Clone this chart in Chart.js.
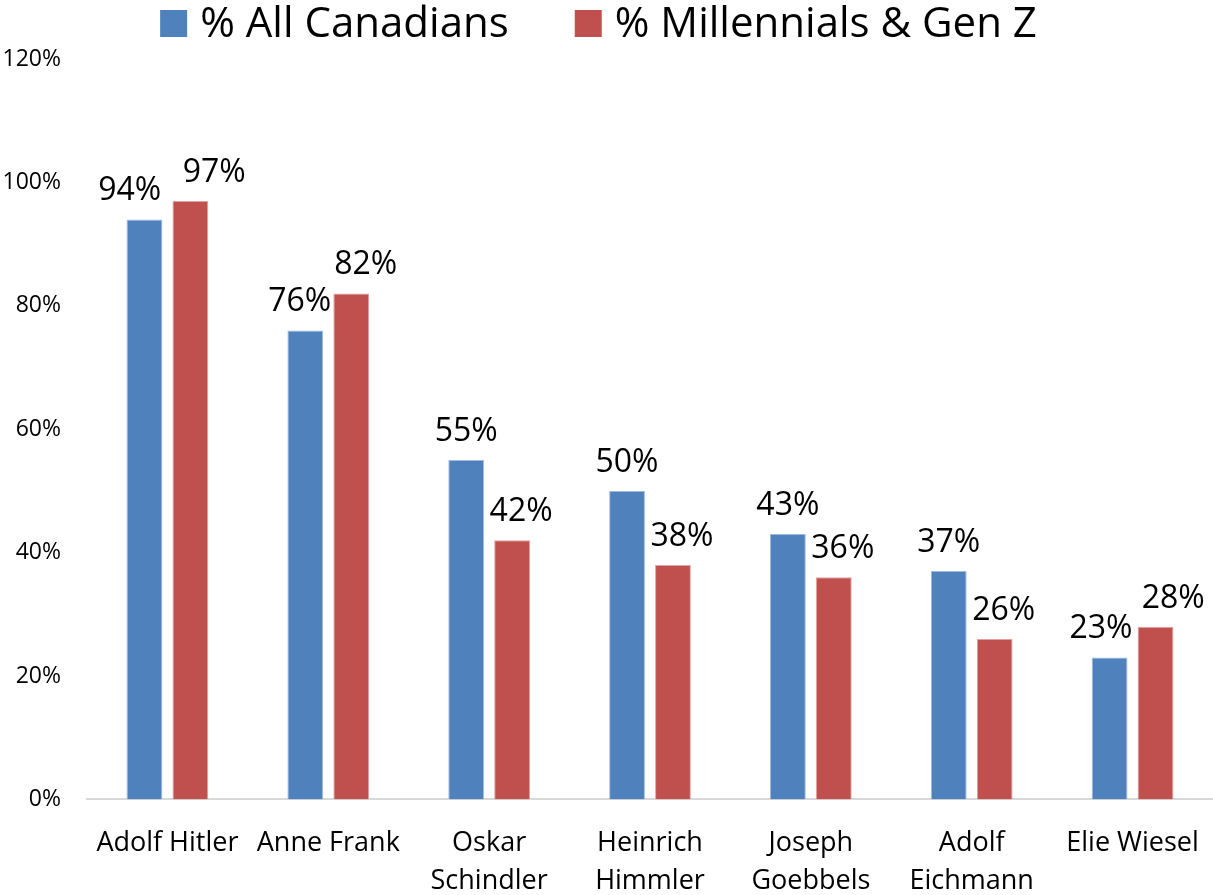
<!DOCTYPE html>
<html>
<head>
<meta charset="utf-8">
<script src="https://cdn.jsdelivr.net/npm/chart.js@4/dist/chart.umd.min.js"></script>
<style>
html,body{margin:0;padding:0;background:#fff;overflow:hidden;width:1213px;height:895px;}
canvas{display:block;}
</style>
</head>
<body>
<canvas id="c" width="1213" height="925"></canvas>
<script>
const categories = [
  'Adolf Hitler',
  'Anne Frank',
  ['Oskar', 'Schindler'],
  ['Heinrich', 'Himmler'],
  ['Joseph', 'Goebbels'],
  ['Adolf', 'Eichmann'],
  'Elie Wiesel'
];
const allCanadians = [94, 76, 55, 50, 43, 37, 23];
const millennialsGenZ = [97, 82, 42, 38, 36, 26, 28];
const seriesNames = ['% All Canadians', '% Millennials & Gen Z'];
const seriesColors = ['#4F81BD', '#C0504D'];
const seriesBorders = ['#9fbbe0', '#e0a3a1'];
const yTicks = [0, 20, 40, 60, 80, 100, 120];

const FONT = "'Open Sans', 'Noto Sans', sans-serif";

const labelPlugin = {
  id: 'barLabels',
  afterDatasetsDraw(chart) {
    const ctx = chart.ctx;
    ctx.save();
    ctx.font = "32px " + FONT;
    ctx.fillStyle = '#000';
    ctx.textAlign = 'center';
    ctx.textBaseline = 'alphabetic';
    const m0 = chart.getDatasetMeta(0).data;
    const m1 = chart.getDatasetMeta(1).data;
    const baseOffsets = [0, 9];
    for (let i = 0; i < m0.length; i++) {
      const items = [m0[i], m1[i]].map((bar, d) => ({
        x: bar.x + baseOffsets[d],
        y: bar.y - 19,
        text: chart.data.datasets[d].data[i] + '%'
      }));
      const w = ctx.measureText(items[0].text).width;
      const dy = Math.abs(items[0].y - items[1].y);
      if (dy < 40) {
        const need = w + (40 - dy);
        const cur = items[1].x - items[0].x;
        if (cur < need) {
          const mid = (items[0].x + items[1].x) / 2;
          items[0].x = mid - need / 2;
          items[1].x = mid + need / 2;
        }
      }
      items.forEach(it => ctx.fillText(it.text, it.x, it.y));
    }
    ctx.restore();
  }
};

const legendPlugin = {
  id: 'topLegend',
  afterDraw(chart) {
    const ctx = chart.ctx;
    ctx.save();
    ctx.font = "42px " + FONT;
    ctx.textBaseline = 'middle';
    ctx.textAlign = 'left';
    const box = 27, gapText = 13, gapItem = 66;
    const ds = chart.data.datasets;
    let total = 0;
    ds.forEach((d, i) => {
      total += box + gapText + ctx.measureText(d.label).width;
      if (i < ds.length - 1) total += gapItem;
    });
    let x = chart.width / 2 - 8 - total / 2;
    const yc = 23.5;
    ds.forEach(d => {
      ctx.fillStyle = d.backgroundColor;
      ctx.fillRect(x, yc - box / 2, box, box);
      x += box + gapText;
      ctx.fillStyle = '#000';
      ctx.fillText(d.label, x, yc + 2);
      x += ctx.measureText(d.label).width + gapItem;
    });
    ctx.restore();
  }
};

new Chart(document.getElementById('c'), {
  type: 'bar',
  data: {
    labels: categories,
    datasets: [
      {
        label: seriesNames[0],
        data: allCanadians,
        backgroundColor: seriesColors[0],
        borderColor: seriesBorders[0],
        borderWidth: 1
      },
      {
        label: seriesNames[1],
        data: millennialsGenZ,
        backgroundColor: seriesColors[1],
        borderColor: seriesBorders[1],
        borderWidth: 1
      }
    ]
  },
  options: {
    responsive: false,
    animation: false,
    devicePixelRatio: 1,
    layout: { padding: { left: 0, right: 0, top: 59, bottom: 0 } },
    datasets: {
      bar: { categoryPercentage: 0.571, barPercentage: 0.78 }
    },
    plugins: {
      legend: { display: false },
      tooltip: { enabled: false }
    },
    scales: {
      y: {
        min: 0,
        max: 120,
        afterBuildTicks(axis) { axis.ticks = yTicks.map(v => ({ value: v })); },
        afterFit(axis) { axis.width = 87; axis.paddingTop = 0; axis.paddingBottom = 0; },
        grid: { display: false, drawTicks: false },
        border: { display: false },
        ticks: {
          font: { family: FONT, size: 23 },
          color: '#000',
          padding: 26,
          callback: v => v + '%'
        }
      },
      x: {
        afterFit(axis) { axis.paddingLeft = 0; axis.paddingRight = 0; },
        grid: { display: false, drawTicks: false },
        border: { display: true, color: '#d9d9d9', width: 2 },
        ticks: {
          font: { family: FONT, size: 27, lineHeight: 1.4 },
          color: '#000',
          padding: 25,
          maxRotation: 0,
          autoSkip: false
        }
      }
    }
  },
  plugins: [labelPlugin, legendPlugin]
});
</script>
</body>
</html>
